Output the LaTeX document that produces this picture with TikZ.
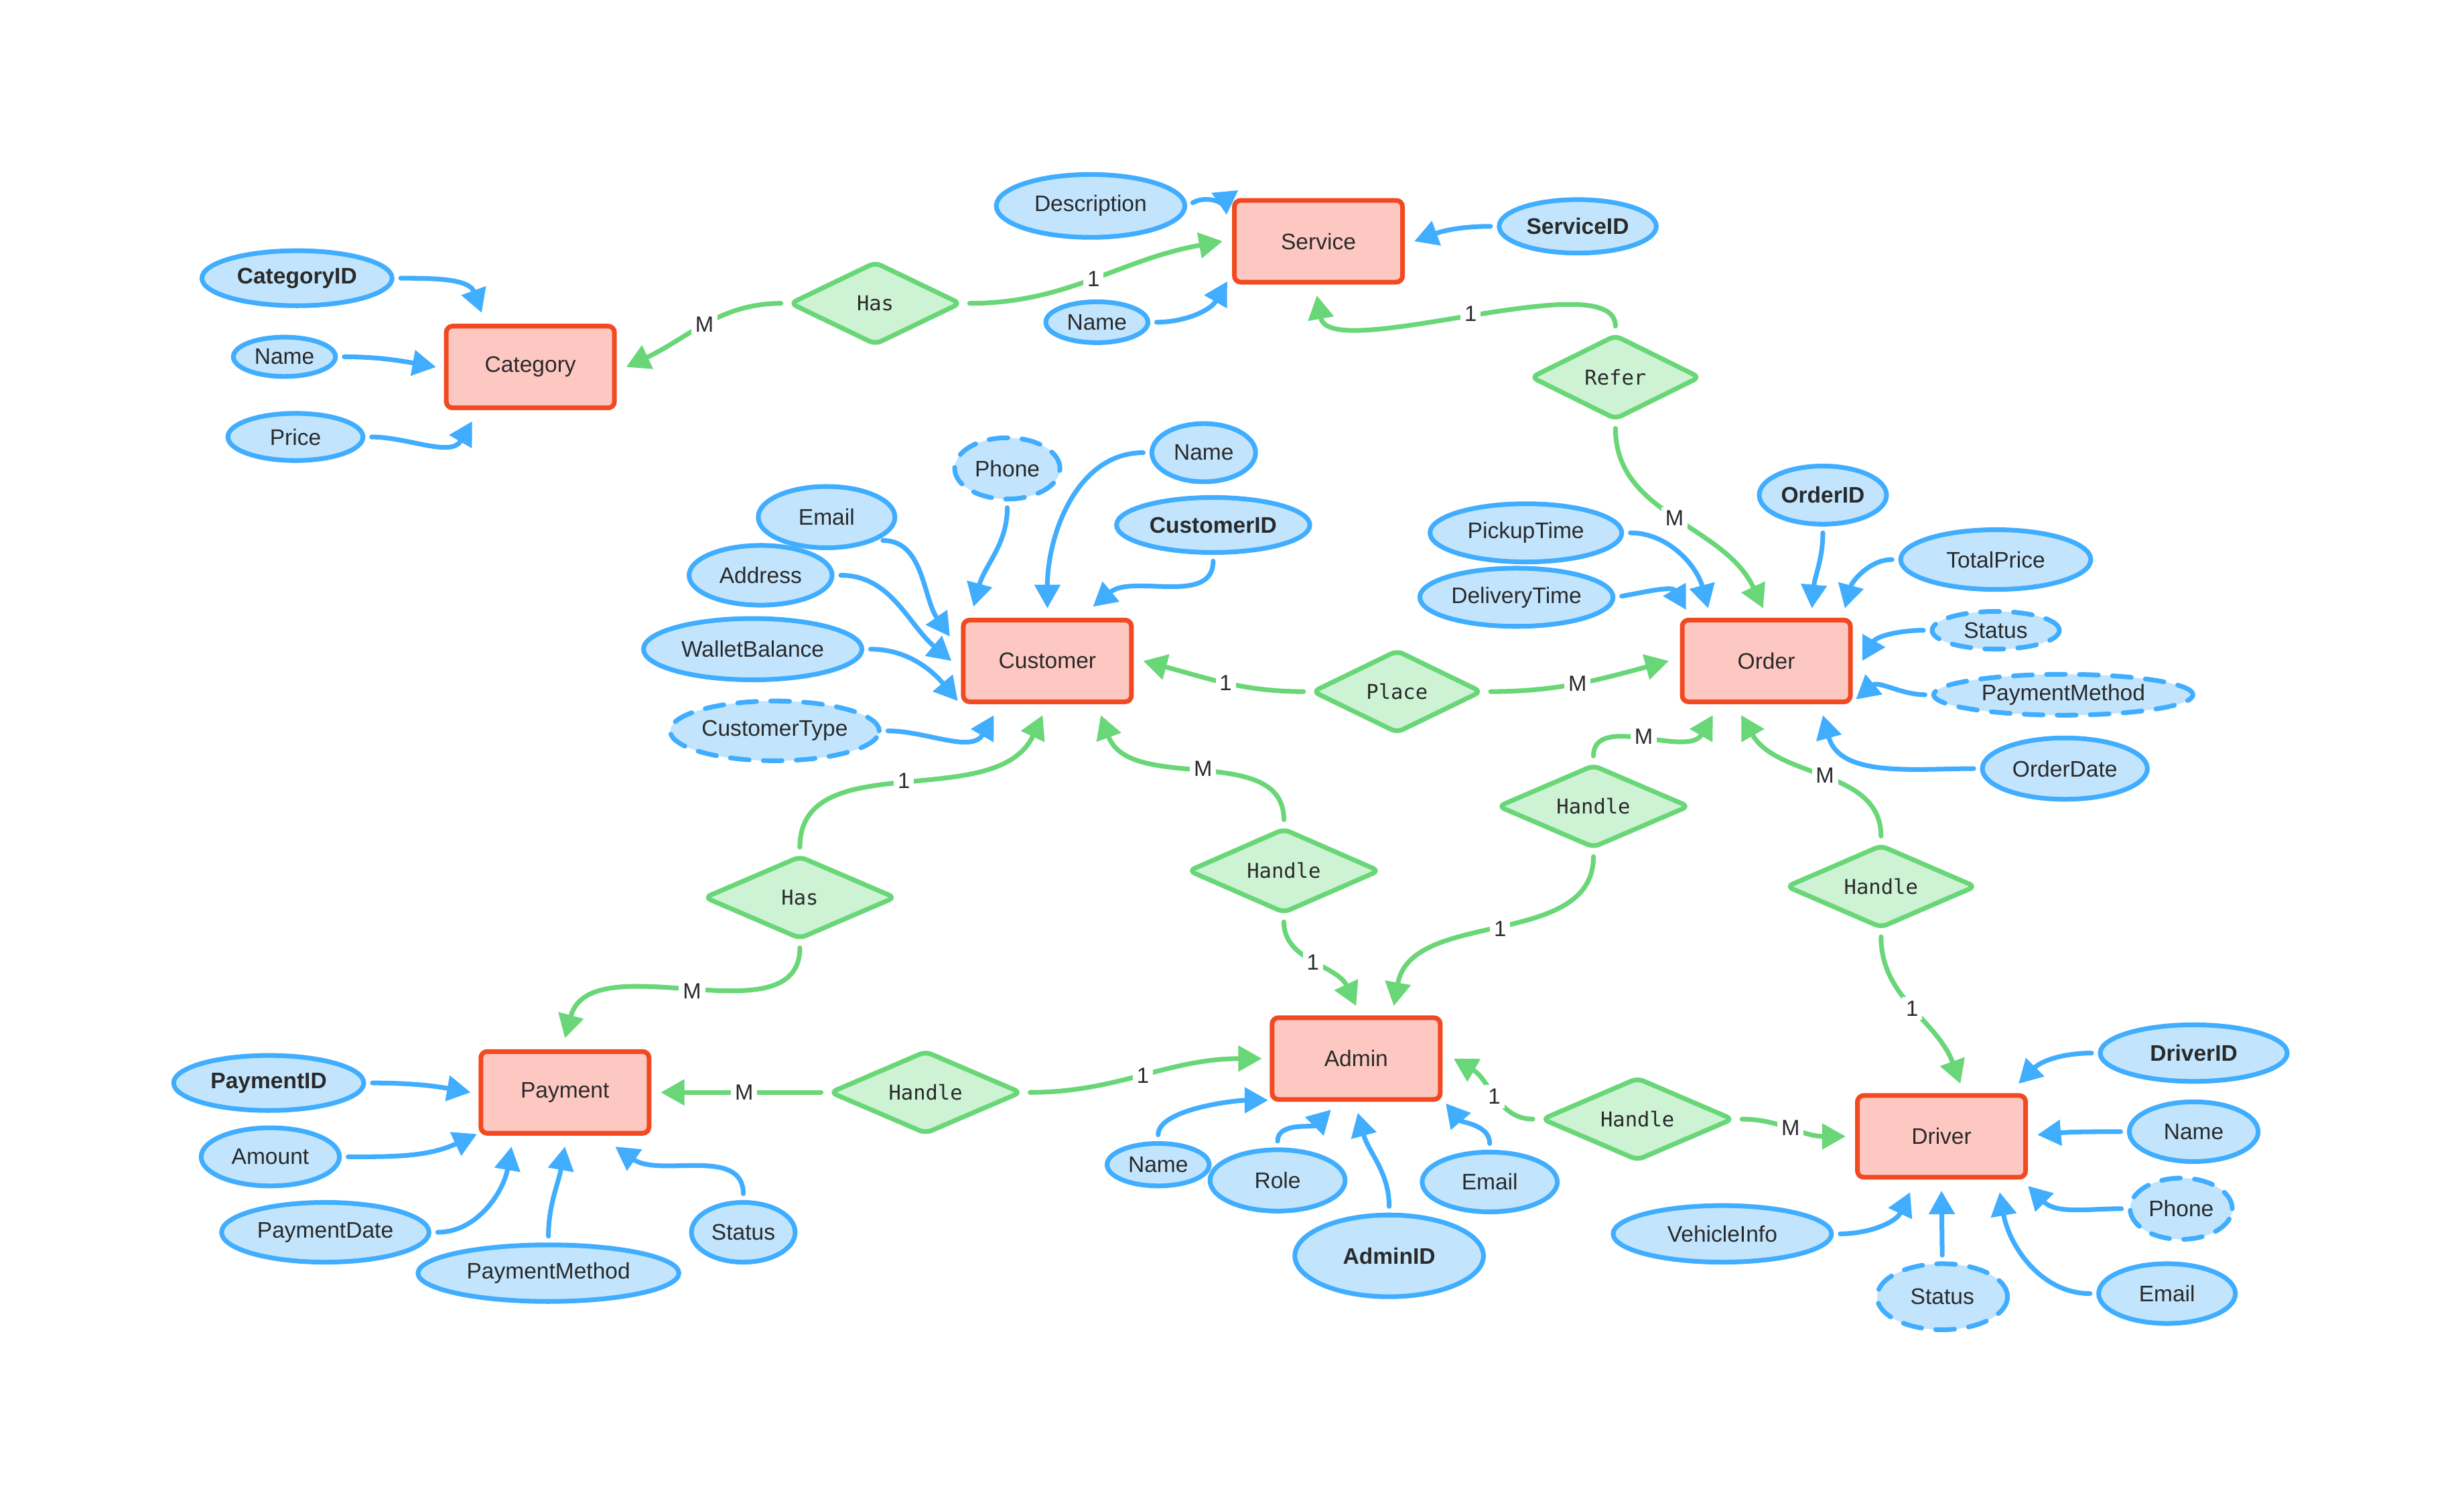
\documentclass[tikz,border=0pt]{standalone}
\usepackage{fontspec}
\setmainfont{Liberation Sans}
\newfontfamily\relfont{DejaVu Sans Mono}
\usetikzlibrary{shapes.geometric,arrows.meta,calc}

\definecolor{entfill}{HTML}{FEC8C2}
\definecolor{entline}{HTML}{F14A23}
\definecolor{attfill}{HTML}{C2E5FD}
\definecolor{attline}{HTML}{41ADFE}
\definecolor{relfill}{HTML}{CDF3D4}
\definecolor{relline}{HTML}{69D677}
\definecolor{ink}{HTML}{2A2A2A}

\tikzset{
  entity/.style={rectangle, rounded corners=4pt, draw=entline, fill=entfill, line width=3pt,
    minimum width=107pt, minimum height=52pt, inner sep=0pt, text=ink,
    font=\fontsize{14.3pt}{16pt}\selectfont},
  attr/.style={ellipse, draw=attline, fill=attfill, line width=3pt, inner sep=0pt, text=ink,
    font=\fontsize{14.3pt}{16pt}\selectfont},
  keyattr/.style={attr, font=\fontsize{14.3pt}{16pt}\selectfont\bfseries},
  multi/.style={attr, line cap=round, dash pattern=on 12pt off 9pt},
  rel/.style={diamond, aspect=2.2, draw=relline, fill=relfill, line width=3pt, rounded corners=4pt,
    inner sep=0pt, text=ink, font=\relfont\fontsize{13pt}{15pt}\selectfont},
  link/.style={draw=attline, line width=3pt, line cap=round, shorten <=4pt,
    -{Triangle[length=15pt,width=16pt]}},
  rlink/.style={draw=relline, line width=3pt, line cap=round, shorten <=4pt},
  rarrow/.style={rlink, -{Triangle[length=15pt,width=16pt]}},
  card/.style={fill=white, inner sep=2.5pt, text=ink, font=\fontsize{14pt}{16pt}\selectfont},
  sz/.style 2 args={minimum width=#1pt, minimum height=#2pt},
}

\begin{document}
\begin{tikzpicture}[x=1pt,y=1pt]
\useasboundingbox (0,0) rectangle (1568,-958.4);

% entities
\node[entity] (cat)    at (337.5,-233.5) {Category};
\node[entity] (serv)   at (839,-153.5)   {Service};
\node[entity] (cust)   at (666.5,-420.5) {Customer};
\node[entity] (order)  at (1124,-420.5)  {Order};
\node[entity] (pay)    at (359.5,-695)   {Payment};
\node[entity] (admin)  at (863,-673.5)   {Admin};
\node[entity] (driver) at (1235.5,-723)  {Driver};

% relationships
\node[rel, sz={109}{53}] (has1)  at (557,-193)  {Has};
\node[rel, sz={108}{54}] (refer) at (1028,-240) {Refer};
\node[rel, sz={108}{53}] (place) at (889,-440)  {Place};
\node[rel, sz={122}{53}] (has2)  at (509,-571)  {Has};
\node[rel, sz={122}{54}] (h1)    at (817,-554)  {Handle};
\node[rel, sz={122}{53}] (h2)    at (1014,-513) {Handle};
\node[rel, sz={121}{53}] (h3)    at (1197,-564) {Handle};
\node[rel, sz={122}{53}] (h4)    at (589,-695)  {Handle};
\node[rel, sz={122}{53}] (h5)    at (1042,-712) {Handle};

% attributes of Category
\node[keyattr, sz={121}{35}] (catid)   at (189,-177) {CategoryID};
\node[attr,    sz={65}{25}]  (catname) at (181,-227) {Name};
\node[attr,    sz={86}{30}]  (price)   at (188,-278) {Price};
% attributes of Service
\node[attr,    sz={120}{40}] (desc)  at (694,-131)  {Description};
\node[attr,    sz={65}{26}]  (sname) at (698,-205)  {Name};
\node[keyattr, sz={100}{34}] (sid)   at (1004,-144) {ServiceID};
% attributes of Customer
\node[multi,   sz={67}{39}]  (phone)  at (641,-298) {Phone};
\node[attr,    sz={66}{37}]  (cname)  at (766,-288) {Name};
\node[attr,    sz={87}{39}]  (email)  at (526,-329) {Email};
\node[keyattr, sz={123}{35}] (cid)    at (772,-334) {CustomerID};
\node[attr,    sz={91}{38}]  (addr)   at (484,-366) {Address};
\node[attr,    sz={139}{39}] (wallet) at (479,-413) {WalletBalance};
\node[multi,   sz={133}{38}] (ctype)  at (493,-465) {CustomerType};
% attributes of Order
\node[keyattr, sz={81}{37}]  (oid)     at (1160,-315) {OrderID};
\node[attr,    sz={122}{37}] (pickup)  at (971,-339)  {PickupTime};
\node[attr,    sz={123}{37}] (deliv)   at (965,-380)  {DeliveryTime};
\node[attr,    sz={121}{38}] (tprice)  at (1270,-356) {TotalPrice};
\node[multi,   sz={81}{24}]  (ostatus) at (1270,-401) {Status};
\node[multi,   sz={165}{26}] (opm)     at (1313,-442) {PaymentMethod};
\node[attr,    sz={105}{39}] (odate)   at (1314,-489) {OrderDate};
% attributes of Payment
\node[keyattr, sz={121}{35}] (pid)     at (171,-689) {PaymentID};
\node[attr,    sz={88}{37}]  (amount)  at (172,-736) {Amount};
\node[attr,    sz={132}{38}] (pdate)   at (207,-784) {PaymentDate};
\node[attr,    sz={166}{36}] (ppm)     at (349,-810) {PaymentMethod};
\node[attr,    sz={66}{38}]  (pstatus) at (473,-784) {Status};
% attributes of Admin
\node[attr,    sz={65}{27}]  (aname)  at (737,-741) {Name};
\node[attr,    sz={86}{39}]  (role)   at (813,-751) {Role};
\node[attr,    sz={86}{38}]  (aemail) at (948,-752) {Email};
\node[keyattr, sz={120}{52}] (aid)    at (884,-799) {AdminID};
% attributes of Driver
\node[keyattr, sz={119}{36}] (did)     at (1396,-670) {DriverID};
\node[attr,    sz={82}{38}]  (dname)   at (1396,-720) {Name};
\node[multi,   sz={65}{39}]  (dphone)  at (1388,-769) {Phone};
\node[attr,    sz={87}{38}]  (demail)  at (1379,-823) {Email};
\node[attr,    sz={139}{36}] (vinfo)   at (1096,-785) {VehicleInfo};
\node[multi,   sz={83}{42}]  (dstatus) at (1236,-825) {Status};

% Category links
\draw[link] (catid.east) to[out=0,in=110] ($(cat.north west)+(24,7)$);
\draw[link] (catname.east) to[out=0,in=170] ($(cat.west)+(-5,0)$);
\draw[link] (price.east) to[out=0,in=-120] ($(cat.south west)+(18,-7)$);
\draw[rarrow] (has1.west) to[out=180,in=25] node[card]{M} ($(cat.east)+(6,0)$);

% Service links
\draw[rarrow] (has1.east) to[out=0,in=190] node[card]{1} ($(serv.west)+(-6,0)$);
\draw[link] (desc.east) to[out=30,in=215] ($(serv.north west)+(4,5)$);
\draw[link] (sname.east) to[out=0,in=240] ($(serv.south west)+(-3,2)$);
\draw[link] (sid.west) to[out=180,in=20] ($(serv.east)+(6,0)$);
\draw[rarrow] (refer.north) to[out=90,in=-80,looseness=0.6] node[card]{1} ($(serv.south)+(-1,-7)$);
\draw[rarrow] (refer.south) to[out=-90,in=115] node[card]{M} ($(order.north)+(-2,6)$);

% Customer links
\draw[link] (phone.south) to[out=-90,in=75] ($(cust.north west)+(8,7)$);
\draw[link] (cname.west) to[out=180,in=90] ($(cust.north)+(0,6)$);
\draw[link] (cid.south) to[out=-90,in=40] ($(cust.north)+(29,7)$);
\draw[link] (email.south east) to[out=0,in=125] ($(cust.north west)+(-7,-12)$);
\draw[link] (addr.east) to[out=0,in=140] ($(cust.west)+(-6,0)$);
\draw[link] (wallet.east) to[out=0,in=130] ($(cust.south west)+(-2,2)$);
\draw[link] (ctype.east) to[out=0,in=-120] ($(cust.south west)+(21,-7)$);
\draw[rarrow] (place.west) to[out=180,in=-15] node[card]{1} ($(cust.east)+(6,0)$);
\draw[rarrow] (place.east) to[out=0,in=195] node[card]{M} ($(order.west)+(-7,0)$);
\draw[rarrow] (has2.north) to[out=90,in=-115] node[card]{1} ($(cust.south)+(-3,-7)$);
\draw[rarrow] (has2.south) to[out=-90,in=75] node[card]{M} ($(pay.north)+(0,7)$);
\draw[rarrow] (h1.north) to[out=90,in=-70] node[card]{M} ($(cust.south)+(34,-7)$);
\draw[rarrow] (h1.south) to[out=-90,in=115] node[card]{1} ($(admin.north)+(0,6)$);

% Order links
\draw[link] (pickup.east) to[out=0,in=105] ($(order.north west)+(18,6)$);
\draw[link] (deliv.east) to[out=10,in=120] ($(order.north west)+(4,5)$);
\draw[link] (oid.south) to[out=-90,in=85] ($(order.north)+(29,6)$);
\draw[link] (tprice.west) to[out=180,in=75] ($(order.north east)+(-5,6)$);
\draw[link] (ostatus.west) to[out=180,in=60] ($(order.east)+(6,0)$);
\draw[link] (opm.west) to[out=180,in=40] ($(order.south east)+(2,3)$);
\draw[link] (odate.west) to[out=180,in=-75] ($(order.south)+(36,-7)$);
\draw[rarrow] (h2.north) to[out=90,in=240] node[card]{M} ($(order.south)+(-34,-7)$);
\draw[rarrow] (h2.south) to[out=-90,in=80] node[card]{1} ($(admin.north)+(24,6)$);
\draw[rarrow] (h3.north) to[out=90,in=-60] node[card]{M} ($(order.south)+(-16,-7)$);
\draw[rarrow] (h3.south) to[out=-90,in=110] node[card]{1} ($(driver.north)+(12,6)$);

% Payment links
\draw[link] (pid.east) to[out=0,in=170] ($(pay.west)+(-5,0)$);
\draw[link] (amount.east) to[out=0,in=205] ($(pay.south west)+(-1,1)$);
\draw[link] (pdate.east) to[out=0,in=-100] ($(pay.south west)+(21,-7)$);
\draw[link] (ppm.north) to[out=90,in=-100] ($(pay.south)+(0,-7)$);
\draw[link] (pstatus.north) to[out=90,in=-35] ($(pay.south)+(32,-7)$);
\draw[rarrow] (h4.west) -- node[card]{M} ($(pay.east)+(6,0)$);
\draw[rarrow] (h4.east) to[out=0,in=180] node[card]{1} ($(admin.west)+(-5,0)$);

% Admin links
\draw[link] (aname.north) to[out=90,in=180,looseness=0.7] ($(admin.south west)+(-1,1)$);
\draw[link] (role.north) to[out=90,in=225] ($(admin.south)+(-16,-5)$);
\draw[link] (aid.north) to[out=90,in=-75] ($(admin.south)+(1,-7)$);
\draw[link] (aemail.north) to[out=90,in=-50] ($(admin.south east)+(2,-1)$);
\draw[rarrow] (h5.west) to[out=180,in=-30] node[card]{1} ($(admin.east)+(7,0)$);
\draw[rarrow] (h5.east) to[out=0,in=180] node[card]{M} ($(driver.west)+(-6,0)$);

% Driver links
\draw[link] (did.west) to[out=180,in=45] ($(driver.north east)+(-6,6)$);
\draw[link] (dname.west) to[out=180,in=5] ($(driver.east)+(6,1)$);
\draw[link] (dphone.west) to[out=180,in=-45] ($(driver.south east)+(0,-4)$);
\draw[link] (demail.west) to[out=180,in=-80] ($(driver.south east)+(-18,-8)$);
\draw[link] (dstatus.north) -- ($(driver.south)+(0,-7)$);
\draw[link] (vinfo.east) to[out=0,in=-115] ($(driver.south)+(-20,-8)$);
\end{tikzpicture}
\end{document}
